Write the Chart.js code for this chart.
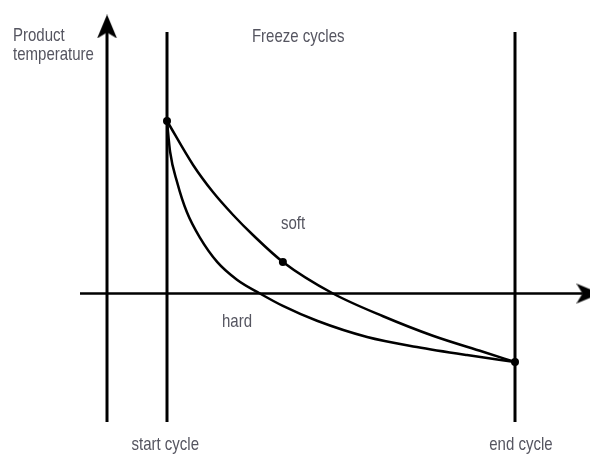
<!DOCTYPE html>
<html>
<head>
<meta charset="utf-8">
<script src="https://cdn.jsdelivr.net/npm/chart.js@4/dist/chart.umd.min.js"></script>
<style>
  html, body { margin: 0; padding: 0; background: #fff; }
  canvas { display: block; }
</style>
</head>
<body>
<canvas id="freezeChart" width="590" height="455"></canvas>
<script>
/**
 * Data (time in cycle units, temperature in arbitrary units, 0 = freezing line)
 */
const startCycle = 0;
const endCycle = 10;
const frameTop = 15.16;
const frameBottom = -7.45;
const tempAxisAt = -1.724;
const timeAxisFrom = -2.5;
const timeAxisTo = 11.95;

const softTime = [0, 0.75, 1.32, 1.9, 2.47, 3.33, 4.77, 6.21, 7.64, 9.08, 10];
const softTemp = [10, 7.45, 5.88, 4.55, 3.39, 1.83, 0, -1.32, -2.45, -3.38, -3.97];

const hardTime = [0, 0.09, 0.29, 0.57, 0.95, 1.44, 2.01, 2.67, 3.33, 4.31, 5.75, 7.18, 8.62, 10];
const hardTemp = [10, 8.2, 6.46, 4.72, 3.22, 1.83, 0.8, 0, -0.72, -1.58, -2.52, -3.1, -3.57, -3.97];

const markTime = [0, 3.33, 10];
const markTemp = [10, 1.83, -3.97];

const labelTexts = ['Product', 'temperature', 'Freeze cycles', 'soft', 'hard', 'start cycle', 'end cycle'];
const labelTime = [-4.425, -4.425, 2.44, 3.62, 2.01, -0.05, 10.17];
const labelTemp = [14.64, 13.54, 14.58, 3.74, -1.94, -9.07, -9.07];
const labelAlign = ['left', 'left', 'left', 'center', 'center', 'center', 'center'];

const LINE_COLOR = '#000';
const TEXT_COLOR = '#555560';
const LABEL_FONT = '19px "Liberation Sans", Arial, sans-serif';
const LABEL_SQUEEZE = 0.79;

//////////////////////////////////////////////////////////////////

/**
 * Barbed arrow head as a point image
 */
function makeArrowHead(dir) {
    const c = document.createElement('canvas');
    const w = dir === 'up' ? 22 : 24;
    const h = dir === 'up' ? 24 : 22;
    c.width = w;
    c.height = h;
    const g = c.getContext('2d');
    g.fillStyle = LINE_COLOR;
    g.beginPath();
    if (dir === 'up') {
        g.moveTo(11, 0);
        g.lineTo(21, 24);
        g.lineTo(11, 18);
        g.lineTo(1, 24);
    } else {
        g.moveTo(24, 11);
        g.lineTo(0, 1);
        g.lineTo(6, 11);
        g.lineTo(0, 21);
    }
    g.closePath();
    g.fill();
    return c;
}

function toPoints(xs, ys) {
    return xs.map(function (x, i) { return {x: x, y: ys[i]}; });
}

function straight(points, width) {
    return {
        data: points,
        showLine: true,
        borderColor: LINE_COLOR,
        borderWidth: width,
        pointRadius: 0,
        tension: 0
    };
}

function curve(points) {
    return {
        data: points,
        showLine: true,
        borderColor: LINE_COLOR,
        borderWidth: 2.5,
        pointRadius: 0,
        cubicInterpolationMode: 'monotone'
    };
}

/**
 * Text labels placed through the chart scales
 */
const labelPlugin = {
    id: 'labelPlugin',
    afterDatasetsDraw: function (chart) {
        const ctx = chart.ctx;
        const xs = chart.scales.x;
        const ys = chart.scales.y;
        ctx.save();
        ctx.font = LABEL_FONT;
        ctx.fillStyle = TEXT_COLOR;
        ctx.textBaseline = 'alphabetic';
        ctx.scale(LABEL_SQUEEZE, 1);
        labelTexts.forEach(function (t, i) {
            ctx.textAlign = labelAlign[i];
            let px = xs.getPixelForValue(labelTime[i]) / LABEL_SQUEEZE;
            ctx.fillText(t, px, ys.getPixelForValue(labelTemp[i]));
        });
        ctx.restore();
    }
};

const datasets = [
    // axes
    straight([{x: tempAxisAt, y: frameBottom}, {x: tempAxisAt, y: 15.28}], 3),
    straight([{x: timeAxisFrom, y: 0}, {x: timeAxisTo, y: 0}], 2.5),
    // cycle borders
    straight([{x: startCycle, y: frameBottom}, {x: startCycle, y: frameTop}], 3),
    straight([{x: endCycle, y: frameBottom}, {x: endCycle, y: frameTop}], 3),
    // arrow heads
    {
        data: [{x: tempAxisAt, y: 15.48}],
        pointStyle: makeArrowHead('up'),
        pointRadius: 12
    },
    {
        data: [{x: 12.11, y: 0}],
        pointStyle: makeArrowHead('right'),
        pointRadius: 12
    },
    // freeze curves
    curve(toPoints(softTime, softTemp)),
    curve(toPoints(hardTime, hardTemp)),
    // marked points
    {
        data: toPoints(markTime, markTemp),
        showLine: false,
        pointRadius: 4,
        pointBackgroundColor: LINE_COLOR,
        pointBorderColor: LINE_COLOR,
        pointBorderWidth: 0
    }
];

const config = {
    type: 'scatter',
    data: {datasets: datasets},
    options: {
        responsive: false,
        animation: false,
        devicePixelRatio: 1,
        layout: {padding: 0, autoPadding: false},
        plugins: {
            legend: {display: false},
            tooltip: {enabled: false}
        },
        scales: {
            x: {type: 'linear', display: false, min: -4.799, max: 12.155},
            y: {type: 'linear', display: false, min: -9.362, max: 17.014}
        }
    },
    plugins: [labelPlugin]
};

new Chart(document.getElementById('freezeChart'), config);
</script>
</body>
</html>
